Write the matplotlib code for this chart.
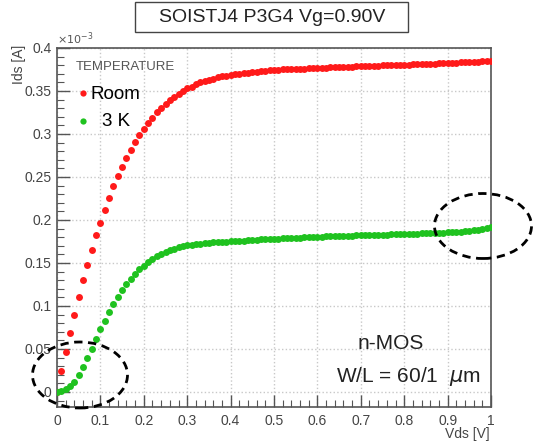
import matplotlib
matplotlib.use('Agg')
import matplotlib.pyplot as plt
import numpy as np
from matplotlib.patches import Ellipse, Rectangle
from matplotlib.ticker import MultipleLocator, FuncFormatter

plt.rcParams['font.family'] = ['Liberation Sans', 'DejaVu Sans']

# Vds sweep step [V]; one point per step from 0 to 1 V
VDS_STEP = 0.01

# Ids [x1e-3 A] at room temperature
ids_room = [
    0.000, 0.024, 0.047, 0.069, 0.090, 0.111, 0.130, 0.148, 0.165, 0.182,
    0.197, 0.212, 0.225, 0.239, 0.251, 0.262, 0.272, 0.281, 0.291, 0.299,
    0.306, 0.313, 0.319, 0.325, 0.330, 0.335, 0.339, 0.343, 0.347, 0.350,
    0.353, 0.355, 0.358, 0.360, 0.3615, 0.363, 0.3645, 0.3658, 0.367, 0.368,
    0.369, 0.3696, 0.3702, 0.3708, 0.3714, 0.372, 0.3725, 0.373, 0.3735, 0.374,
    0.3745, 0.3747, 0.375, 0.3752, 0.3754, 0.3757, 0.3759, 0.3761, 0.3763, 0.3766,
    0.3768, 0.377, 0.3772, 0.3774, 0.3776, 0.3778, 0.378, 0.3782, 0.3784, 0.3786,
    0.3788, 0.379, 0.3792, 0.3793, 0.3795, 0.3797, 0.3798, 0.380, 0.3802, 0.3803,
    0.3805, 0.3807, 0.3809, 0.3811, 0.3813, 0.3815, 0.3817, 0.3819, 0.3821, 0.3823,
    0.3825, 0.3827, 0.383, 0.3832, 0.3835, 0.3837, 0.384, 0.3842, 0.3845, 0.3847,
    0.385,
]

# Ids [x1e-3 A] at 3 K
ids_3k = [
    0.000, 0.0015, 0.004, 0.0073, 0.0116, 0.0198, 0.0294, 0.040, 0.050, 0.061,
    0.073, 0.083, 0.0927, 0.102, 0.110, 0.1186, 0.1256, 0.1318, 0.137, 0.1427,
    0.147, 0.151, 0.1547, 0.158, 0.1605, 0.163, 0.1648, 0.1667, 0.1683, 0.1694,
    0.1706, 0.1714, 0.172, 0.1726, 0.1731, 0.1736, 0.174, 0.1743, 0.1746, 0.1749,
    0.1752, 0.1755, 0.1758, 0.1761, 0.1764, 0.1767, 0.177, 0.1773, 0.1776, 0.1779,
    0.1782, 0.1784, 0.1787, 0.1789, 0.1791, 0.1794, 0.1796, 0.1798, 0.180, 0.1803,
    0.1805, 0.1807, 0.1809, 0.181, 0.1812, 0.1814, 0.1815, 0.1817, 0.1819, 0.182,
    0.1822, 0.1823, 0.1825, 0.1826, 0.1828, 0.1829, 0.1831, 0.1832, 0.1834, 0.1835,
    0.1837, 0.1838, 0.184, 0.1841, 0.1843, 0.1845, 0.1846, 0.1848, 0.185, 0.1852,
    0.1855, 0.1858, 0.1861, 0.1865, 0.1869, 0.1874, 0.1879, 0.1885, 0.1892, 0.1903,
    0.1915,
]

vds = np.arange(len(ids_room)) * VDS_STEP

RED = '#ff1a1a'
GREEN = '#1fc21f'
W, H = 539, 444

fig = plt.figure(figsize=(W / 100, H / 100), dpi=100)
ax = fig.add_axes([57 / W, 1 - 407 / H, (491 - 57) / W, (407 - 48) / H])

ax.plot(vds, ids_room, 'o', color=RED, markersize=5, markeredgewidth=0, zorder=3)
ax.plot(vds, ids_3k, 'o', color=GREEN, markersize=5, markeredgewidth=0, zorder=3)

ax.set_xlim(0, 1)
ax.set_ylim(-0.0175, 0.4)
ax.xaxis.set_major_locator(MultipleLocator(0.1))
ax.xaxis.set_minor_locator(MultipleLocator(0.02))
ax.yaxis.set_major_locator(MultipleLocator(0.05))
ax.yaxis.set_minor_locator(MultipleLocator(0.01))
fmt = FuncFormatter(lambda v, p: '%g' % round(v, 3))
ax.xaxis.set_major_formatter(fmt)
ax.yaxis.set_major_formatter(fmt)
ax.tick_params(which='both', direction='in', top=False, right=False,
               color='#555555', labelcolor='#444444', labelsize=10)
ax.tick_params(which='major', length=9, width=1)
ax.tick_params(which='minor', length=5, width=0.8)
ax.tick_params(axis='x', pad=5)
ax.tick_params(axis='y', pad=4)
ax.grid(True, which='major', color='#c8c8c8', linestyle=':', linewidth=1)
for s in ax.spines.values():
    s.set_color('#555555')
    s.set_linewidth(1.2)

# exponent and axis labels, ROOT style
fig.text(57 / W, 1 - 39 / H, r'$\times10^{-3}$', fontsize=8, color='#555555',
         ha='left', va='center')
fig.text(19 / W, 1 - 45 / H, 'Ids [A]', rotation=90, fontsize=10,
         color='#444444', ha='center', va='top')
fig.text(490 / W, 1 - 434 / H, 'Vds [V]', fontsize=10, color='#444444',
         ha='right', va='center')

# title box
fig.patches.append(Rectangle((135 / W, 1 - 32 / H), (408 - 135) / W, 30 / H,
                             transform=fig.transFigure, fill=False,
                             edgecolor='#444444', linewidth=1))
fig.text(272 / W, 1 - 17 / H, 'SOISTJ4 P3G4 Vg=0.90V', fontsize=14,
         color='#222222', ha='center', va='center')

# legend
fig.text(76 / W, 1 - 67 / H, 'TEMPERATURE', fontsize=9.5, color='#555555',
         ha='left', va='center')
ax.plot([83 / W], [1 - 93 / H], 'o', color=RED, markersize=4.5,
        markeredgewidth=0, transform=fig.transFigure, clip_on=False)
ax.plot([83 / W], [1 - 121 / H], 'o', color=GREEN, markersize=4.5,
        markeredgewidth=0, transform=fig.transFigure, clip_on=False)
fig.text(91 / W, 1 - 94 / H, 'Room', fontsize=13.5, color='black',
         ha='left', va='center')
fig.text(102 / W, 1 - 121 / H, '3 K', fontsize=13.5, color='black',
         ha='left', va='center')

# device annotation
fig.text(391 / W, 1 - 343 / H, 'n-MOS', fontsize=15, color='#222222',
         ha='center', va='center')
fig.text(481 / W, 1 - 376 / H, r'W/L = 60/1  $\mu$m', fontsize=15,
         color='#222222', ha='right', va='center')

# dashed ellipses
for cx, cy, ew, eh in [(80, 375, 95, 66), (483, 226, 97, 65)]:
    fig.patches.append(Ellipse((cx / W, 1 - cy / H), ew / W, eh / H,
                               transform=fig.transFigure, fill=False,
                               edgecolor='black', linestyle=(0, (3, 2)),
                               linewidth=2, zorder=5))

fig.savefig('out.png', dpi=100)
